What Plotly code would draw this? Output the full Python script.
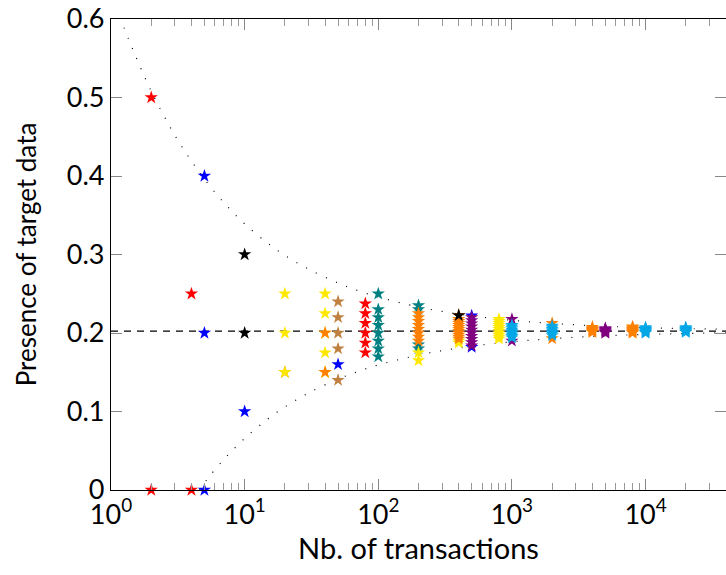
import plotly.graph_objects as go

# ---------------- data ----------------
red_x = [2, 2, 4, 4, 80, 80, 80, 80, 80, 80]
red_y = [0.5, 0.0, 0.25, 0.0, 0.2375, 0.225, 0.2125, 0.2, 0.1875, 0.175]

blue_x = [5, 5, 5, 10, 50, 500, 500]
blue_y = [0.4, 0.2, 0.0, 0.1, 0.16, 0.222, 0.182]

teal_x = [100, 100, 100, 100, 100, 100, 100, 100, 200, 200, 200, 200]
teal_y = [0.25, 0.23, 0.22, 0.21, 0.2, 0.19, 0.18, 0.17, 0.235, 0.23, 0.185, 0.18]

brown_x = [20, 50, 50, 50, 50, 50]
brown_y = [0.15, 0.24, 0.22, 0.2, 0.18, 0.14]

yellow_x = [20, 20, 20, 40, 40, 40, 40, 40, 200, 200, 400, 400,
            800, 800, 800, 800, 800, 800, 800, 800, 800, 800, 800]
yellow_y = [0.25, 0.2, 0.15, 0.25, 0.225, 0.2, 0.175, 0.15, 0.165, 0.175, 0.1875, 0.19,
            0.1925, 0.195, 0.1975, 0.2, 0.2025, 0.205, 0.2075, 0.21, 0.2125, 0.215, 0.2175]

orange_x = [40, 40,
            200, 200, 200, 200, 200, 200, 200, 200,
            400, 400, 400, 400, 400, 400, 400, 400, 400, 400, 400, 400,
            2000, 2000,
            4000, 4000, 4000, 4000, 4000, 4000, 4000,
            8000, 8000, 8000, 8000, 8000, 8000, 8000, 8000, 8000]
orange_y = [0.2, 0.15,
            0.225, 0.22, 0.215, 0.21, 0.205, 0.2, 0.195, 0.19,
            0.2225, 0.2175, 0.215, 0.2125, 0.21, 0.2075, 0.205, 0.2025, 0.2, 0.1975, 0.195, 0.1925,
            0.2125, 0.193,
            0.2075, 0.206, 0.205, 0.204, 0.203, 0.202, 0.201,
            0.208, 0.207, 0.206, 0.205, 0.204, 0.203, 0.202, 0.201, 0.2]

black_x = [10, 10, 400]
black_y = [0.3, 0.2, 0.2225]

purple_x = [500, 500, 500, 500, 500, 500, 500, 500, 500, 500,
            1000, 1000,
            5000, 5000, 5000, 5000, 5000, 5000, 5000]
purple_y = [0.22, 0.216, 0.212, 0.208, 0.204, 0.2, 0.196, 0.192, 0.188, 0.184,
            0.2175, 0.19,
            0.206, 0.205, 0.204, 0.203, 0.202, 0.201, 0.2]

cyan_x = [1000, 1000, 1000, 1000, 1000, 1000, 1000, 1000, 1000,
          2000, 2000, 2000, 2000, 2000, 2000, 2000,
          10000, 10000, 10000, 10000, 10000, 10000, 10000, 10000,
          20000, 20000, 20000, 20000, 20000, 20000, 20000,
          40000, 40000, 40000, 40000]
cyan_y = [0.21, 0.208, 0.206, 0.204, 0.202, 0.2, 0.198, 0.196, 0.194,
          0.209, 0.207, 0.205, 0.203, 0.201, 0.199, 0.197,
          0.207, 0.206, 0.205, 0.204, 0.203, 0.202, 0.201, 0.2,
          0.207, 0.206, 0.205, 0.204, 0.203, 0.202, 0.201,
          0.205, 0.204, 0.203, 0.202]

# mean level (dashed line)
mean_x = [1, 40000]
mean_y = [0.2025, 0.2025]

# dotted envelope
env_up_x = [1.17, 1.25, 1.5, 2, 3, 4, 5, 7, 10, 15, 20, 30, 50, 70, 100, 200, 300,
            500, 1000, 2000, 5000, 10000, 20000, 40000]
env_up_y = [0.602, 0.589, 0.556, 0.508, 0.452, 0.419, 0.396, 0.366, 0.339, 0.314, 0.299,
            0.2815, 0.2637, 0.2542, 0.2458, 0.2331, 0.2275, 0.2218, 0.2162, 0.2122,
            0.2086, 0.2068, 0.2056, 0.2047]
env_lo_x = [4.6, 5.2, 7, 10, 15, 20, 30, 50, 70, 100, 200, 300, 500, 1000, 2000,
            5000, 10000, 20000, 40000]
env_lo_y = [0.0, 0.013, 0.039, 0.0657, 0.0908, 0.1058, 0.1235, 0.1413, 0.1508, 0.1593,
            0.1719, 0.1775, 0.1832, 0.1888, 0.1928, 0.1964, 0.1982, 0.1994, 0.2003]

x_tickvals = [1, 10, 100, 1000, 10000]
x_ticktext = ["10<sup>0</sup>", "10<sup>1</sup>", "10<sup>2</sup>", "10<sup>3</sup>", "10<sup>4</sup>"]
y_tickvals = [0, 0.1, 0.2, 0.3, 0.4, 0.5, 0.6]
y_ticktext = ["0", "0.1", "0.2", "0.3", "0.4", "0.5", "0.6"]
minor_vals = [m * 10 ** k for k in range(5) for m in range(2, 10)]

FONT = "Lato"

fig = go.Figure()

fig.add_trace(go.Scatter(x=env_up_x, y=env_up_y, mode="lines", line_shape="spline",
                         line=dict(color="black", width=1.2, dash="1px,10px"),
                         hoverinfo="skip", showlegend=False))
fig.add_trace(go.Scatter(x=env_lo_x, y=env_lo_y, mode="lines", line_shape="spline",
                         line=dict(color="black", width=1.2, dash="1px,10px"),
                         hoverinfo="skip", showlegend=False))
fig.add_trace(go.Scatter(x=mean_x, y=mean_y, mode="lines",
                         line=dict(color="black", width=1.2, dash="7px,6px"),
                         hoverinfo="skip", showlegend=False))

series = [
    (red_x, red_y, "#FF0000"),
    (blue_x, blue_y, "#0000FF"),
    (teal_x, teal_y, "#008080"),
    (brown_x, brown_y, "#BF8040"),
    (yellow_x, yellow_y, "#FFE800"),
    (orange_x, orange_y, "#FF8000"),
    (black_x, black_y, "#000000"),
    (purple_x, purple_y, "#800080"),
    (cyan_x, cyan_y, "#00A6E6"),
]
for sx, sy, col in series:
    fig.add_trace(go.Scatter(x=sx, y=sy, mode="markers", showlegend=False,
                             cliponaxis=False,
                             marker=dict(symbol="star", size=10, color=col,
                                         line=dict(width=0))))

# invisible trace to carry the right-side tick axis
fig.add_trace(go.Scatter(x=[], y=[], yaxis="y2", showlegend=False))

tick_font = dict(family=FONT, size=27, color="black")
fig.update_layout(
    width=726, height=575,
    margin=dict(l=111, r=0, t=19, b=85),
    paper_bgcolor="white", plot_bgcolor="white",
    font=dict(family=FONT, color="black"),
    xaxis=dict(type="log", range=[0, 4.602], showgrid=False, zeroline=False,
               automargin=False,
               showline=True, linecolor="black", linewidth=1.3, mirror="ticks",
               ticks="inside", ticklen=11, tickwidth=1, tickcolor="#888",
               tickvals=x_tickvals, ticktext=x_ticktext, tickfont=tick_font,
               minor=dict(tickmode="array", tickvals=minor_vals, ticks="inside",
                          ticklen=7, tickwidth=1, tickcolor="#999", showgrid=False),
               title=dict(text="Nb. of transactions", font=dict(family=FONT, size=29),
                          standoff=10)),
    yaxis=dict(range=[0, 0.6], showgrid=False, zeroline=False, automargin=False,
               showline=True, linecolor="black", linewidth=1.3,
               ticks="inside", ticklen=11, tickwidth=1, tickcolor="#888",
               tickvals=y_tickvals, ticktext=y_ticktext, tickfont=tick_font,
               title=dict(text="Presence of target data", font=dict(family=FONT, size=26),
                          standoff=22)),
    yaxis2=dict(range=[0, 0.6], overlaying="y", side="right", showgrid=False,
                automargin=False,
                zeroline=False, showline=False, ticks="inside", ticklen=11,
                tickwidth=1, tickcolor="#888", tickvals=y_tickvals,
                showticklabels=False),
)

fig.write_html("out.html", config={"displayModeBar": False},
               post_script="document.body.style.margin='0';document.body.style.overflow='hidden';")
